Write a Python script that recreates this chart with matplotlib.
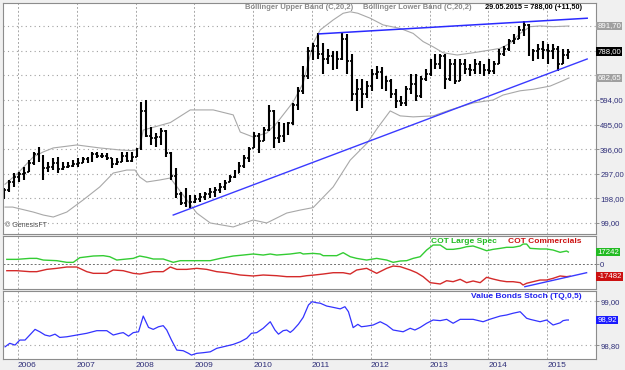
import numpy as np
import matplotlib
matplotlib.use("Agg")
import matplotlib.pyplot as plt

plt.rcParams['font.family'] = ['Liberation Sans', 'DejaVu Sans']

# monthly OHLC bars, Oct 2005 .. May 2015
opens = [198, 230, 265, 285, 295, 305, 340, 375, 360, 320, 325, 340,
         315, 325, 330, 335, 340, 355, 350, 375, 370, 368, 360, 335,
         345, 370, 350, 365, 395, 550, 450, 440, 445, 470, 380, 290,
         215, 180, 190, 185, 195, 205, 215, 225, 232, 245, 265, 285,
         300, 330, 360, 400, 450, 430, 475, 550, 440, 450, 490, 500,
         575, 630, 690, 790, 810, 780, 760, 770, 750, 760, 840, 750,
         620, 640, 620, 650, 700, 705, 650, 670, 620, 590, 580, 640,
         660, 610, 680, 700, 750, 740, 770, 680, 740, 670, 740, 720,
         715, 740, 720, 715, 710, 740, 780, 800, 830, 840, 875, 895,
         780, 790, 800, 795, 790, 800, 740, 776.5]
highs = [240, 272, 300, 304, 324, 352, 384, 405, 372, 344, 360, 364,
         344, 344, 352, 360, 364, 364, 384, 384, 380, 380, 362, 360,
         384, 384, 384, 400, 585, 594, 485, 460, 480, 473, 384, 320,
         224, 240, 212, 212, 220, 224, 240, 244, 260, 272, 292, 312,
         344, 372, 405, 465, 460, 485, 573, 553, 505, 501, 505, 582,
         646, 730, 808, 822, 862, 822, 800, 790, 790, 862, 858, 780,
         680, 680, 670, 720, 730, 725, 690, 680, 640, 610, 650, 700,
         700, 690, 720, 760, 780, 780, 780, 760, 760, 760, 760, 740,
         760, 750, 740, 760, 750, 800, 810, 840, 860, 890, 911, 900,
         800, 820, 830, 820, 820, 810, 800, 800]
lows = [195, 225, 244, 264, 272, 304, 332, 344, 272, 304, 312, 300,
        312, 320, 324, 324, 340, 340, 345, 360, 360, 352, 320, 332,
        344, 344, 344, 364, 393, 445, 413, 405, 413, 364, 272, 200,
        171, 163, 160, 180, 184, 192, 200, 204, 220, 232, 264, 280,
        300, 320, 344, 400, 380, 430, 470, 400, 420, 424, 453, 493,
        553, 620, 680, 755, 760, 700, 740, 715, 720, 755, 700, 590,
        550, 560, 600, 630, 680, 640, 630, 600, 560, 570, 570, 620,
        590, 600, 670, 690, 720, 720, 640, 670, 660, 670, 700, 690,
        700, 700, 690, 700, 700, 740, 770, 790, 820, 840, 850, 770,
        750, 760, 760, 740, 760, 710, 740, 760]
closes = [230, 265, 285, 295, 300, 340, 375, 365, 320, 325, 340, 315,
          325, 330, 335, 340, 355, 350, 375, 370, 368, 362, 335, 345,
          370, 350, 365, 395, 550, 450, 440, 445, 470, 380, 290, 215,
          180, 190, 185, 195, 205, 215, 225, 232, 245, 260, 285, 300,
          330, 360, 395, 450, 430, 475, 550, 440, 450, 490, 500, 575,
          630, 690, 790, 810, 780, 760, 770, 750, 760, 840, 750, 620,
          640, 620, 650, 700, 705, 650, 670, 620, 590, 580, 640, 660,
          610, 680, 700, 750, 740, 770, 680, 740, 670, 740, 720, 715,
          740, 720, 715, 710, 740, 780, 800, 830, 840, 875, 895, 780,
          790, 800, 795, 790, 800, 740, 776.5, 788]

# Bollinger bands (C,20,2)
upper_t = [2005.78, 2006.00, 2006.26, 2006.43, 2006.60, 2007.00, 2007.39, 2007.73,
           2007.96, 2008.07, 2008.13, 2008.59, 2008.93, 2009.32, 2009.66, 2009.78,
           2010.00, 2010.23, 2010.40, 2010.68, 2010.85, 2011.02, 2011.14, 2011.36,
           2011.53, 2011.65, 2011.78, 2011.99, 2012.21, 2012.50, 2012.72, 2012.89,
           2013.06, 2013.23, 2013.47, 2013.74, 2014.03, 2014.20, 2014.37, 2014.54,
           2014.71, 2014.88, 2015.10, 2015.37]
upper_v = [255, 300, 365, 385, 401, 413, 401, 393,
           390, 400, 473, 503, 554, 554, 534, 465,
           445, 461, 501, 586, 662, 822, 876, 916,
           943, 949, 943, 923, 896, 882, 862, 829,
           808, 784, 775, 784, 795, 802, 822, 862,
           889, 892, 889, 891.7]
lower_t = [2005.78, 2005.91, 2006.26, 2006.43, 2006.60, 2006.83, 2007.11, 2007.39,
           2007.62, 2007.85, 2007.99, 2008.07, 2008.19, 2008.41, 2008.59, 2008.87,
           2009.04, 2009.27, 2009.66, 2010.00, 2010.23, 2010.57, 2010.80, 2011.02,
           2011.36, 2011.65, 2011.94, 2012.11, 2012.33, 2012.50, 2012.72, 2013.06,
           2013.35, 2013.74, 2014.08, 2014.25, 2014.54, 2014.76, 2015.05, 2015.27,
           2015.37]
lower_v = [163, 163, 143, 131, 123, 143, 192, 244,
           300, 312, 312, 284, 264, 272, 280, 192,
           139, 99, 83, 111, 99, 139, 151, 161,
           244, 352, 421, 480, 550, 530, 526, 530,
           554, 582, 594, 614, 631, 637, 650, 672,
           682.65]

# trend lines
res_t = [2011.12, 2015.68]
res_v = [860, 923]
sup_t = [2008.64, 2015.68]
sup_v = [131, 759]

# COT panel
spec_t = [2005.81, 2005.98, 2006.20, 2006.32, 2006.43, 2006.66, 2006.83, 2006.94,
          2007.05, 2007.28, 2007.45, 2007.56, 2007.68, 2007.79, 2007.96, 2008.07,
          2008.19, 2008.30, 2008.47, 2008.64, 2008.76, 2008.93, 2009.10, 2009.27,
          2009.44, 2009.66, 2009.83, 2010.00, 2010.17, 2010.29, 2010.40, 2010.63,
          2010.80, 2010.85, 2011.02, 2011.14, 2011.19, 2011.42, 2011.53, 2011.65,
          2011.76, 2011.93, 2012.10, 2012.27, 2012.38, 2012.50, 2012.61, 2012.72,
          2012.84, 2012.95, 2013.06, 2013.18, 2013.29, 2013.40, 2013.52, 2013.63,
          2013.74, 2013.86, 2013.97, 2014.08, 2014.20, 2014.31, 2014.42, 2014.54,
          2014.59, 2014.65, 2014.71, 2014.88, 2014.99, 2015.10, 2015.22, 2015.27,
          2015.33, 2015.36]
spec_v = [6700, 6700, 8100, 8100, 5700, 4800, 2400, 2400,
          9100, 11500, 12000, 10500, 5700, 6700, 8100, 11500,
          9600, 7200, 7200, 2400, 4800, 4800, 4800, 4800,
          8100, 11500, 12900, 14400, 12900, 14400, 12900, 14400,
          16300, 14400, 15300, 14400, 12000, 12000, 16300, 10500,
          8100, 5700, 8100, 5700, 2400, 4300, 4800, 8100,
          10500, 20100, 27300, 27300, 21100, 21100, 22500, 24900,
          25900, 22500, 19100, 21100, 22500, 24000, 24000, 25900,
          28700, 28700, 22500, 21600, 21600, 20100, 16800, 17700,
          18700, 17242]
comm_t = [2005.81, 2005.98, 2006.20, 2006.32, 2006.49, 2006.66, 2006.83, 2007.00,
          2007.17, 2007.28, 2007.51, 2007.62, 2007.79, 2007.96, 2008.07, 2008.30,
          2008.47, 2008.59, 2008.70, 2008.87, 2009.04, 2009.21, 2009.38, 2009.55,
          2009.78, 2010.00, 2010.17, 2010.40, 2010.57, 2010.80, 2010.91, 2011.02,
          2011.19, 2011.36, 2011.53, 2011.65, 2011.76, 2011.93, 2012.10, 2012.27,
          2012.38, 2012.50, 2012.67, 2012.78, 2012.89, 2013.01, 2013.18, 2013.29,
          2013.40, 2013.52, 2013.63, 2013.74, 2013.86, 2013.97, 2014.08, 2014.20,
          2014.31, 2014.42, 2014.54, 2014.59, 2014.65, 2014.76, 2014.88, 2014.99,
          2015.10, 2015.22, 2015.33, 2015.39]
comm_v = [-9600, -9600, -11000, -11000, -7700, -6200, -4300, -4300,
          -11000, -13400, -13400, -8600, -9600, -13400, -14400, -11000,
          -11000, -4300, -7700, -7700, -6200, -7700, -11000, -12500,
          -15800, -17200, -15800, -16800, -18200, -18200, -16800, -16000,
          -14400, -12500, -12500, -14400, -8600, -6200, -13400, -6200,
          -2900, -3800, -8600, -12500, -18200, -26800, -28700, -24000,
          -25400, -22000, -26800, -24400, -26800, -19100, -21600, -24000,
          -25400, -25400, -26800, -30200, -27700, -25400, -23000, -23000,
          -20600, -17200, -18200, -17482]
cot_tr_t = [2014.62, 2015.67]
cot_tr_v = [-32600, -12500]

# Value Bonds Stoch (TQ,0,5)
st_t = [2005.78, 2005.86, 2005.95, 2006.03, 2006.12, 2006.20, 2006.29, 2006.37,
        2006.46, 2006.54, 2006.63, 2006.71, 2006.83, 2007.00, 2007.17, 2007.34,
        2007.51, 2007.62, 2007.73, 2007.79, 2007.88, 2007.96, 2008.05, 2008.13,
        2008.22, 2008.30, 2008.39, 2008.47, 2008.53, 2008.61, 2008.70, 2008.81,
        2008.90, 2008.95, 2009.04, 2009.15, 2009.27, 2009.38, 2009.49, 2009.66,
        2009.78, 2009.89, 2009.97, 2010.06, 2010.17, 2010.29, 2010.37, 2010.43,
        2010.51, 2010.57, 2010.63, 2010.68, 2010.77, 2010.85, 2010.94, 2011.00,
        2011.08, 2011.14, 2011.25, 2011.36, 2011.48, 2011.56, 2011.62, 2011.70,
        2011.78, 2011.84, 2011.93, 2012.04, 2012.16, 2012.27, 2012.38, 2012.55,
        2012.67, 2012.75, 2012.84, 2012.95, 2013.06, 2013.18, 2013.29, 2013.40,
        2013.52, 2013.74, 2013.91, 2014.02, 2014.20, 2014.31, 2014.42, 2014.54,
        2014.65, 2014.71, 2014.88, 2014.99, 2015.10, 2015.22, 2015.27, 2015.33,
        2015.36]
st_v = [98.792, 98.808, 98.800, 98.823, 98.823, 98.846, 98.872, 98.861,
        98.846, 98.841, 98.850, 98.835, 98.838, 98.846, 98.854, 98.866,
        98.866, 98.846, 98.854, 98.857, 98.841, 98.857, 98.861, 98.933,
        98.881, 98.872, 98.884, 98.889, 98.869, 98.823, 98.777, 98.774,
        98.762, 98.754, 98.762, 98.765, 98.769, 98.785, 98.792, 98.803,
        98.815, 98.831, 98.854, 98.857, 98.877, 98.907, 98.869, 98.850,
        98.866, 98.869, 98.858, 98.869, 98.896, 98.927, 98.984, 98.999,
        98.994, 98.992, 98.979, 98.973, 98.966, 98.976, 98.953, 98.880,
        98.895, 98.884, 98.887, 98.892, 98.907, 98.892, 98.869, 98.861,
        98.877, 98.869, 98.881, 98.900, 98.915, 98.912, 98.918, 98.900,
        98.918, 98.918, 98.907, 98.918, 98.933, 98.938, 98.946, 98.953,
        98.923, 98.918, 98.907, 98.915, 98.892, 98.902, 98.912, 98.915,
        98.915]

years = list(range(2006, 2016))
price_ticks = [99, 198, 297, 396, 495, 594, 693, 792, 891]
price_labels = ['99,00', '198,00', '297,00', '396,00', '495,00', '594,00', '', '', '']

t = 2005.75 + (np.arange(len(closes)) + 0.2) / 12

fig = plt.figure(figsize=(6.25, 3.70), dpi=100, facecolor='#f0f0f0')
ax1 = fig.add_axes([0.0048, 0.3676, 0.9488, 0.6243])
ax2 = fig.add_axes([0.0048, 0.2189, 0.9488, 0.1432])
ax3 = fig.add_axes([0.0048, 0.0297, 0.9488, 0.1838])

navy = '#2e2e78'
for ax in (ax1, ax2, ax3):
    ax.set_facecolor('white')
    ax.set_xlim(2005.745, 2015.83)
    ax.set_xticks(years)
    ax.xaxis.grid(True, linestyle=(0, (2, 2)), color='#a8a8a8', lw=0.7)
    ax.yaxis.tick_right()
    ax.tick_params(axis='y', length=2, width=0.6, color='#808080', labelsize=5.6,
                   labelcolor=navy, pad=1)
    ax.tick_params(axis='x', length=0)
    for s in ax.spines.values():
        s.set_color('#8c8c8c')
        s.set_linewidth(0.8)
    ax.set_axisbelow(True)
ax1.set_xticklabels([])
ax2.set_xticklabels([])
ax3.set_xticklabels([str(y) for y in years], ha='left', fontsize=6, color=navy)
ax3.tick_params(axis='x', pad=2)


def fmt(v):
    return f"{v:.2f}".replace('.', ',')


def tag(ax, y, text, fc, tc='white'):
    ax.text(1.002, y, text, transform=ax.get_yaxis_transform(), ha='left', va='center',
            fontsize=5.6, color=tc, clip_on=False, zorder=6,
            bbox=dict(boxstyle='square,pad=0.12', fc=fc, ec='none'))


# --- price panel
ax1.set_ylim(54.7, 984.3)
ax1.set_yticks(price_ticks)
ax1.set_yticklabels(price_labels)
ax1.yaxis.grid(True, linestyle=(0, (1, 3)), color='#a0a0a0', lw=0.8)
ax1.plot(upper_t, upper_v, color='#a8a8a8', lw=0.8)
ax1.plot(lower_t, lower_v, color='#a8a8a8', lw=0.8)
ax1.vlines(t, lows, highs, color='black', lw=1.5)
ax1.hlines(opens, t - 0.032, t, color='black', lw=1.2)
ax1.hlines(closes, t, t + 0.032, color='black', lw=1.2)
ax1.plot(res_t, res_v, color='#2a2aff', lw=1.1)
ax1.plot(sup_t, sup_v, color='#3a3aff', lw=1.0)
ax1.text(0.408, 0.995, 'Bollinger Upper Band (C,20,2)', transform=ax1.transAxes,
         ha='left', va='top', fontsize=5.5, color='#8a8a8a', fontweight='bold')
ax1.text(0.607, 0.995, 'Bollinger Lower Band (C,20,2)', transform=ax1.transAxes,
         ha='left', va='top', fontsize=5.5, color='#8a8a8a', fontweight='bold')
ax1.text(0.976, 0.995, '29.05.2015 = 788,00 (+11,50)', transform=ax1.transAxes,
         ha='right', va='top', fontsize=5.3, color='black', fontweight='bold')
ax1.text(0.004, 0.022, '© GenesisFT', transform=ax1.transAxes, ha='left', va='bottom',
         fontsize=5, color='#505050')
tag(ax1, upper_v[-1], fmt(upper_v[-1]), '#a0a0a0')
tag(ax1, closes[-1], fmt(closes[-1]), 'black')
tag(ax1, lower_v[-1], fmt(lower_v[-1]), '#a0a0a0')

# --- COT panel
ax2.set_ylim(-35925, 40236)
ax2.set_yticks([0])
ax2.set_yticklabels(['0'])
ax2.axhline(0, color='#707070', lw=0.7, ls=(0, (2, 2)), zorder=1)
ax2.plot(spec_t, spec_v, color='#33cc33', lw=1.0)
ax2.plot(comm_t, comm_v, color='#d42a2a', lw=1.0)
ax2.plot(cot_tr_t, cot_tr_v, color='#3a3aff', lw=1.0)
ax2.text(0.833, 0.97, 'COT Large Spec', transform=ax2.transAxes, ha='right', va='top',
         fontsize=6, color='#22bb22', fontweight='bold')
ax2.text(0.976, 0.97, 'COT Commercials', transform=ax2.transAxes, ha='right', va='top',
         fontsize=6, color='#cc1111', fontweight='bold')
tag(ax2, spec_v[-1], f"{spec_v[-1]}", '#22bb22')
tag(ax2, comm_v[-1], f"{comm_v[-1]}", '#cc1111')

# --- stoch panel
ax3.set_ylim(98.736, 99.048)
ax3.set_yticks([98.80, 99.00])
ax3.set_yticklabels(['98,80', '99,00'])
ax3.yaxis.grid(True, linestyle=(0, (1, 3)), color='#a0a0a0', lw=0.8)
ax3.plot(st_t, st_v, color='#3333ff', lw=0.9)
ax3.text(0.976, 0.97, 'Value Bonds Stoch (TQ,0,5)', transform=ax3.transAxes, ha='right',
         va='top', fontsize=6, color='#2222ee', fontweight='bold')
tag(ax3, st_v[-1], '98,92', '#1a1aff')

fig.savefig('out.png', dpi=100, facecolor=fig.get_facecolor())
